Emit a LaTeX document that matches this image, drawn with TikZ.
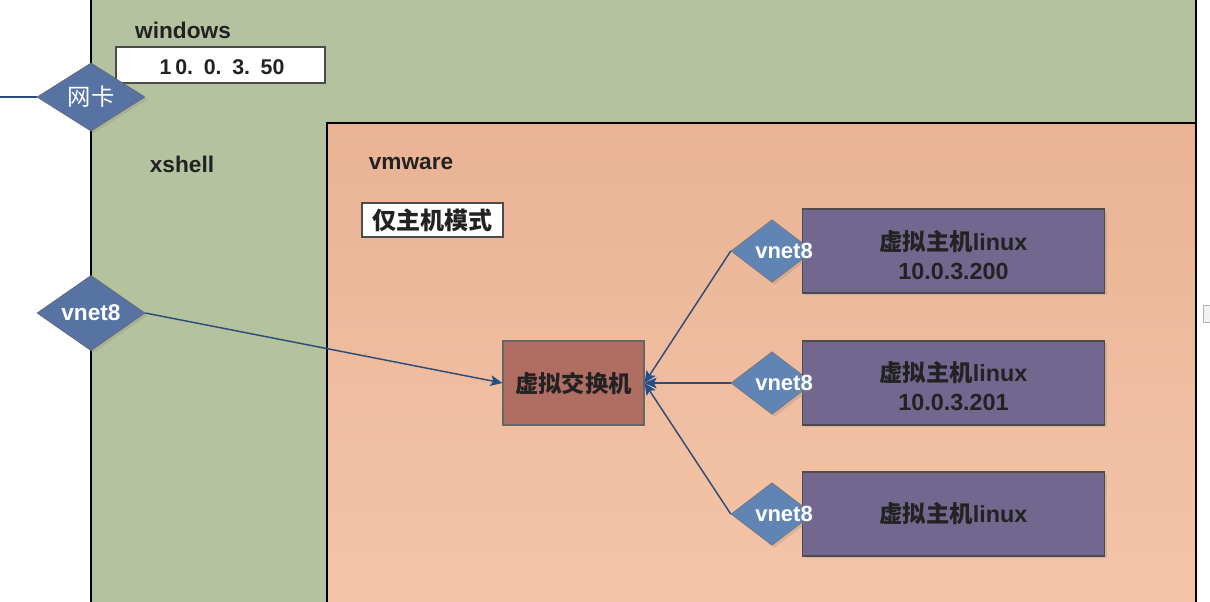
\documentclass[tikz,border=0pt]{standalone}
\usepackage{fontspec}
\setmainfont{Liberation Sans}
\newfontfamily\cjk{Noto Sans CJK SC}
\usetikzlibrary{shapes.geometric,arrows.meta,shadows}
\definecolor{wingreen}{HTML}{B4C29F}
\definecolor{vmtop}{HTML}{E9B394}
\definecolor{vmbot}{HTML}{F5C5A9}
\definecolor{nicblue}{HTML}{5673A4}
\definecolor{vnblue}{HTML}{6085B5}
\definecolor{swred}{HTML}{B06E63}
\definecolor{vmpurple}{HTML}{72678F}
\definecolor{linkblue}{HTML}{2E4C78}
\definecolor{tipblue}{HTML}{24508A}
\definecolor{txtdark}{HTML}{222222}
\tikzset{
  x=0.75pt, y=-0.75pt,
  swtip/.tip={Stealth[length=9pt,width=8pt,inset=2pt,fill=tipblue,color=tipblue]},
  lbl/.style={font=\bfseries\fontsize{17}{19}\selectfont, text=txtdark, inner sep=0},
  whitebox/.style={draw=black!70, fill=white, line width=0.8pt},
  shad/.style={drop shadow={opacity=0.25, shadow xshift=1.8pt, shadow yshift=-1.8pt}},
  nic/.style={diamond, draw=black!60, fill=nicblue, inner sep=0, minimum width=81pt, minimum height=48pt, text=white, font=\fontsize{17.5}{19}\selectfont, shad},
  vnic/.style={diamond, draw=black!55, fill=vnblue, inner sep=0, minimum width=61.5pt, minimum height=47pt, shad},
  vntext/.style={text=white, font=\bfseries\fontsize{16.5}{18}\selectfont, inner sep=0},
  vmbox/.style={draw=black!70, fill=vmpurple, line width=0.8pt, inner sep=0, minimum width=227pt, minimum height=63pt, shad},
  vmtext/.style={align=center, text=txtdark, font=\bfseries\fontsize{17.5}{21.5}\selectfont, inner sep=0},
  link/.style={draw=linkblue, line width=1.1pt},
}
\begin{document}
\begin{tikzpicture}
\useasboundingbox (0,0) rectangle (1210,602);
\fill[white] (0,0) rectangle (1210,602);
% windows area
\draw[fill=wingreen, draw=black, line width=0.9pt] (91,-10) rectangle (1196,615);
% vmware area
\draw[top color=vmtop, bottom color=vmbot, draw=black, line width=0.9pt] (327,123) rectangle (1196,615);
% scrollbar remnant
\draw[gray!60, fill=gray!10] (1203,305) rectangle (1212,322);
% labels
\node[lbl] (winlbl) at (183,30) {windows};
\node[lbl] (xshlbl) at (182,164) {xshell};
\node[lbl] (vmwlbl) at (411,164) {vmware};
% ip box
\draw[whitebox] (116,47) rectangle (325,83);
\node[font=\bfseries\fontsize{16}{18}\selectfont, text=txtdark] (winip) at (222,67) {1{\kern3pt}0.\enspace 0.\enspace 3.\enspace 50};
% mode box
\draw[whitebox] (362,203) rectangle (503,237);
\node[font=\cjk\bfseries\fontsize{18}{20}\selectfont, text=txtdark] (mode) at (432,220) {仅主机模式};
% switch
\node[draw=black!60, fill=swred, line width=0.8pt, minimum width=105.75pt, minimum height=63pt, inner sep=0, font=\cjk\bfseries\fontsize{17.5}{19}\selectfont, text=txtdark] (sw) at (573.5,383) {虚拟交换机};
% vm boxes
\node[vmbox] (vm1) at (953.5,251) {};
\node[vmbox] (vm2) at (953.5,383) {};
\node[vmbox] (vm3) at (953.5,514) {};
\node[vmtext] (vm1t) at (953.5,255) {{\cjk 虚拟主机}linux\\10.0.3.200};
\node[vmtext] (vm2t) at (953.5,386) {{\cjk 虚拟主机}linux\\10.0.3.201};
\node[vmtext] (vm3t) at (953.5,514) {{\cjk 虚拟主机}linux};
% host nics
\node[nic] (nic) at (91,97) {\cjk 网卡};
\node[nic, font=\bfseries\fontsize{17}{19}\selectfont] (vnl) at (91,313) {vnet8};
% vm nics
\node[vnic] (vn1) at (772,251) {};
\node[vnic] (vn2) at (772,383) {};
\node[vnic] (vn3) at (772,514) {};
\node[vntext] (vt1) at (784,251) {vnet8};
\node[vntext] (vt2) at (784,383) {vnet8};
\node[vntext] (vt3) at (784,514) {vnet8};
% connectors
\coordinate (wire) at (0,97);
\draw[link] (wire) -- (nic.west);
\draw[link, -swtip] (vnl.east) -- (sw.west);
\draw[link, swtip-] (sw.east) -- (vn1.west);
\draw[link, swtip-] (sw.east) -- (vn2.west);
\draw[link, swtip-] (sw.east) -- (vn3.west);
\end{tikzpicture}
\end{document}
